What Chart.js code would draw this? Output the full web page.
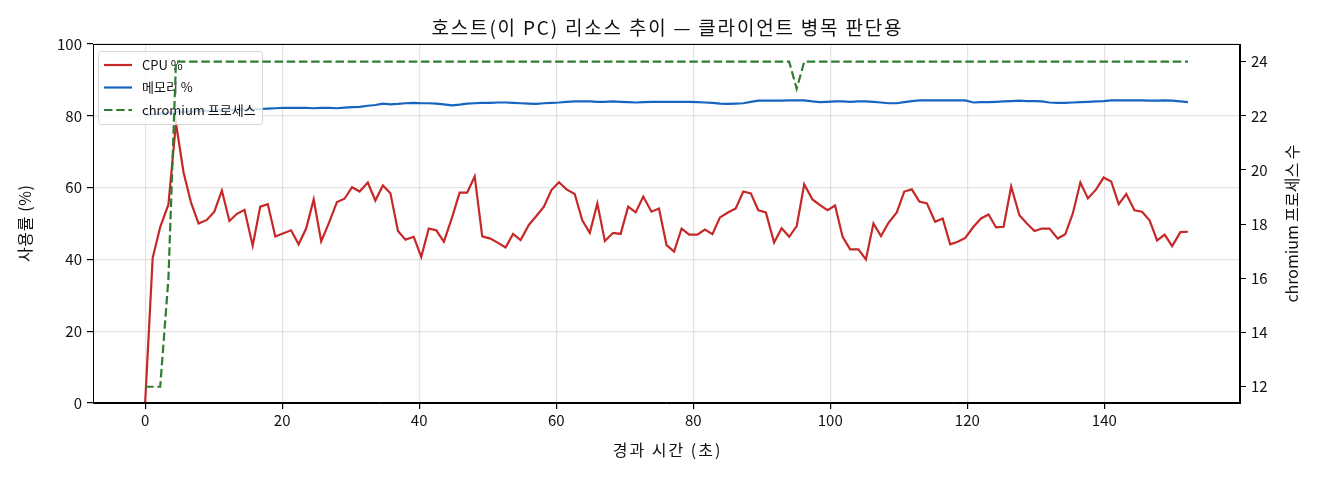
<!DOCTYPE html>
<html>
<head>
<meta charset="utf-8">
<script src="https://cdn.jsdelivr.net/npm/chart.js@4/dist/chart.umd.min.js"></script>
<style>
html,body{margin:0;padding:0;background:#fff;}
canvas{display:block;}
</style>
</head>
<body>
<canvas id="c" width="1320" height="480"></canvas>
<script>
const FONT = '"Noto Sans CJK KR", "Noto Sans", sans-serif';

const chartTitle = '호스트(이 PC) 리소스 추이 — 클라이언트 병목 판단용';
const xTitle = '경과 시간 (초)';
const yLeftTitle = '사용률 (%)';
const yRightTitle = 'chromium 프로세스 수';
const seriesNames = ['CPU %', '메모리 %', 'chromium 프로세스'];

const elapsed = [0.0,1.1,2.2,3.4,4.5,5.6,6.7,7.8,9.0,10.1,11.2,12.3,13.4,14.5,15.7,16.8,17.9,19.0,20.1,21.3,
22.4,23.5,24.6,25.7,26.9,28.0,29.1,30.2,31.3,32.5,33.6,34.7,35.8,36.9,38.0,39.2,40.3,41.4,42.5,43.6,
44.8,45.9,47.0,48.1,49.2,50.4,51.5,52.6,53.7,54.8,56.0,57.1,58.2,59.3,60.4,61.5,62.7,63.8,64.9,66.0,
67.1,68.3,69.4,70.5,71.6,72.7,73.9,75.0,76.1,77.2,78.3,79.4,80.6,81.7,82.8,83.9,85.0,86.2,87.3,88.4,
89.5,90.6,91.8,92.9,94.0,95.1,96.2,97.4,98.5,99.6,100.7,101.8,102.9,104.1,105.2,106.3,107.4,108.5,109.7,110.8,
111.9,113.0,114.1,115.3,116.4,117.5,118.6,119.7,120.9,122.0,123.1,124.2,125.3,126.4,127.6,128.7,129.8,130.9,132.0,133.2,
134.3,135.4,136.5,137.6,138.8,139.9,141.0,142.1,143.2,144.4,145.5,146.6,147.7,148.8,149.9,151.1,152.2];

const cpuPct = [0,40.4,49,55.3,78,64.3,55.8,50,51,53.3,59.2,50.7,52.7,53.8,43.8,54.7,55.4,46.4,47.2,48.1,
44.2,48.6,56.7,45.0,50.5,56,56.9,60.1,58.9,61.4,56.4,60.6,58.4,47.9,45.5,46.3,40.7,48.6,48.1,44.9,
51.7,58.6,58.6,63.1,46.4,45.8,44.6,43.3,47.1,45.4,49.6,52.1,54.7,59.3,61.5,59.5,58.2,50.9,47.4,55.6,
45.1,47.4,47.1,54.7,53.1,57.5,53.3,54.2,44.0,42.2,48.6,46.9,46.9,48.3,47.0,51.7,53.0,54.2,58.9,58.4,
53.7,53.1,44.7,48.7,46.3,49.3,60.9,56.7,55.1,53.7,55,46.3,42.8,42.8,40.0,50,46.5,50.2,53.1,58.9,
59.5,56.1,55.6,50.5,51.4,44.2,44.9,46.0,49.1,51.4,52.5,48.9,49.1,60.3,52.3,50,47.9,48.6,48.6,45.8,
47.0,52.8,61.4,57.0,59.5,62.8,61.7,55.4,58.2,53.7,53.3,50.9,45.3,46.9,43.7,47.6,47.7];

const memPct = [80.2,80.4,80.6,80.8,81.0,81.1,81.2,81.3,81.4,81.5,81.5,81.6,81.7,81.7,81.8,81.9,82.0,82.1,82.2,82.2,
82.2,82.2,82.1,82.2,82.2,82.1,82.3,82.4,82.5,82.8,83.0,83.4,83.2,83.3,83.5,83.6,83.5,83.5,83.4,83.2,
82.9,83.1,83.4,83.5,83.6,83.6,83.7,83.7,83.6,83.5,83.4,83.3,83.5,83.6,83.7,83.9,84.0,84.0,84.0,83.9,
83.9,84.0,83.9,83.8,83.7,83.8,83.9,83.9,83.9,83.9,83.9,83.9,83.8,83.7,83.6,83.4,83.3,83.4,83.5,83.9,
84.2,84.2,84.2,84.2,84.3,84.3,84.3,84.0,83.8,83.9,84.0,84.0,83.9,84.0,84.0,83.9,83.7,83.5,83.5,83.8,
84.1,84.3,84.3,84.3,84.3,84.3,84.3,84.3,83.7,83.8,83.8,83.9,84.0,84.1,84.2,84.1,84.1,84.0,83.7,83.6,
83.6,83.7,83.8,83.9,84.0,84.1,84.3,84.3,84.3,84.3,84.3,84.2,84.2,84.3,84.2,84.0,83.8];

const chromiumProcs = [12,12,12,16,24,24,24,24,24,24,24,24,24,24,24,24,24,24,24,24,
24,24,24,24,24,24,24,24,24,24,24,24,24,24,24,24,24,24,24,24,
24,24,24,24,24,24,24,24,24,24,24,24,24,24,24,24,24,24,24,24,
24,24,24,24,24,24,24,24,24,24,24,24,24,24,24,24,24,24,24,24,
24,24,24,24,24,23,24,24,24,24,24,24,24,24,24,24,24,24,24,24,
24,24,24,24,24,24,24,24,24,24,24,24,24,24,24,24,24,24,24,24,
24,24,24,24,24,24,24,24,24,24,24,24,24,24,24,24,24];

const xTickStep = 20;
const yLeftTickStep = 20;
const yRightTickStep = 2;

function pts(ys){ return elapsed.map((t,i)=>({x:t,y:ys[i]})); }

const GRID = 'rgba(176,176,176,0.35)';
const tickFont = {family: FONT, size: 15};
const axisTitleFont = {family: FONT, size: 16};

function drawText(ctx, text, x, y, size, spacing, rot) {
  ctx.save();
  ctx.translate(x, y);
  if (rot) ctx.rotate(rot);
  ctx.fillStyle = '#111';
  ctx.font = size + 'px ' + FONT;
  ctx.textAlign = 'center';
  ctx.textBaseline = 'middle';
  if ('letterSpacing' in ctx) ctx.letterSpacing = spacing + 'px';
  ctx.fillText(text, spacing / 2, 0);
  ctx.restore();
}

const frameAndLegend = {
  id: 'frameAndLegend',
  afterDatasetDraw(chart, args) {
    if (args.index !== 1) return;
    const ctx = chart.ctx;
    const x0 = 98.5, y0 = 51.5, w = 164, h = 73, r = 3;
    ctx.save();
    ctx.beginPath();
    ctx.moveTo(x0 + r, y0);
    ctx.lineTo(x0 + w - r, y0); ctx.arcTo(x0 + w, y0, x0 + w, y0 + r, r);
    ctx.lineTo(x0 + w, y0 + h - r); ctx.arcTo(x0 + w, y0 + h, x0 + w - r, y0 + h, r);
    ctx.lineTo(x0 + r, y0 + h); ctx.arcTo(x0, y0 + h, x0, y0 + h - r, r);
    ctx.lineTo(x0, y0 + r); ctx.arcTo(x0, y0, x0 + r, y0, r);
    ctx.closePath();
    ctx.fillStyle = 'rgba(255,255,255,0.8)';
    ctx.fill();
    ctx.strokeStyle = 'rgba(204,204,204,0.8)';
    ctx.lineWidth = 1;
    ctx.stroke();
    const rows = [65, 87.5, 110];
    chart.data.datasets.forEach((ds, i) => {
      const y = rows[i];
      ctx.beginPath();
      ctx.setLineDash(ds.borderDash || []);
      ctx.strokeStyle = ds.borderColor;
      ctx.lineWidth = ds.borderWidth;
      ctx.moveTo(104, y); ctx.lineTo(132, y);
      ctx.stroke();
      ctx.setLineDash([]);
      ctx.fillStyle = '#111';
      ctx.font = '13px ' + FONT;
      ctx.textBaseline = 'middle';
      ctx.textAlign = 'left';
      ctx.fillText(ds.label, 142, y);
    });
    ctx.restore();
  },
  afterDraw(chart) {
    const a = chart.chartArea, ctx = chart.ctx;
    ctx.save();
    ctx.strokeStyle = '#000';
    ctx.lineWidth = 1;
    ctx.strokeRect(Math.round(a.left) + 0.5, Math.round(a.top) + 0.5,
      Math.round(a.right - a.left) - 1, Math.round(a.bottom - a.top) - 1);
    ctx.restore();
    const cx = (a.left + a.right) / 2, cy = (a.top + a.bottom) / 2;
    drawText(ctx, chartTitle, cx, 28, 19, 1.8, 0);
    drawText(ctx, xTitle, cx, 450, axisTitleFont.size, 2, 0);
    drawText(ctx, yLeftTitle, 25, cy, axisTitleFont.size, 0.6, -Math.PI / 2);
    drawText(ctx, yRightTitle, 1292, cy, axisTitleFont.size, 0, -Math.PI / 2);
  }
};

new Chart(document.getElementById('c'), {
  type: 'line',
  data: {
    datasets: [
      {label: seriesNames[0], data: pts(cpuPct), yAxisID: 'y', borderColor: '#c62828', borderWidth: 2.2, order: 2},
      {label: seriesNames[1], data: pts(memPct), yAxisID: 'y', borderColor: '#1565c0', borderWidth: 2.2, order: 1},
      {label: seriesNames[2], data: pts(chromiumProcs), yAxisID: 'y2', borderColor: '#2e7d32', borderWidth: 2.2, borderDash: [8.5, 3.7], order: 0}
    ]
  },
  options: {
    responsive: false,
    animation: false,
    devicePixelRatio: 1,
    layout: {padding: {top: 44}},
    elements: {point: {radius: 0, hoverRadius: 0}, line: {tension: 0, fill: false}},
    plugins: {
      legend: {display: false},
      tooltip: {enabled: false},
      title: {display: false}
    },
    scales: {
      x: {
        type: 'linear', position: 'bottom', min: -7.61, max: 159.8,
        ticks: {stepSize: xTickStep, includeBounds: false, color: '#111', font: tickFont, padding: 2, maxRotation: 0},
        grid: {color: GRID, lineWidth: 1.2, tickColor: '#000', tickLength: 6, drawTicks: true},
        border: {display: true, color: '#000'},
        title: {display: false},
        afterFit(s) { s.height = 77; }
      },
      y: {
        type: 'linear', position: 'left', min: 0, max: 100,
        ticks: {stepSize: yLeftTickStep, color: '#111', font: tickFont, padding: 5},
        grid: {color: GRID, lineWidth: 1.2, tickColor: '#000', tickLength: 6},
        border: {display: true, color: '#000'},
        title: {display: false},
        afterFit(s) { s.width = 93; }
      },
      y2: {
        type: 'linear', position: 'right', min: 11.4, max: 24.65,
        ticks: {stepSize: yRightTickStep, includeBounds: false, color: '#111', font: tickFont, padding: 5},
        grid: {drawOnChartArea: false, tickColor: '#000', tickLength: 6},
        border: {display: true, color: '#000'},
        title: {display: false},
        afterFit(s) { s.width = 80; }
      }
    }
  },
  plugins: [frameAndLegend]
});
</script>
</body>
</html>
